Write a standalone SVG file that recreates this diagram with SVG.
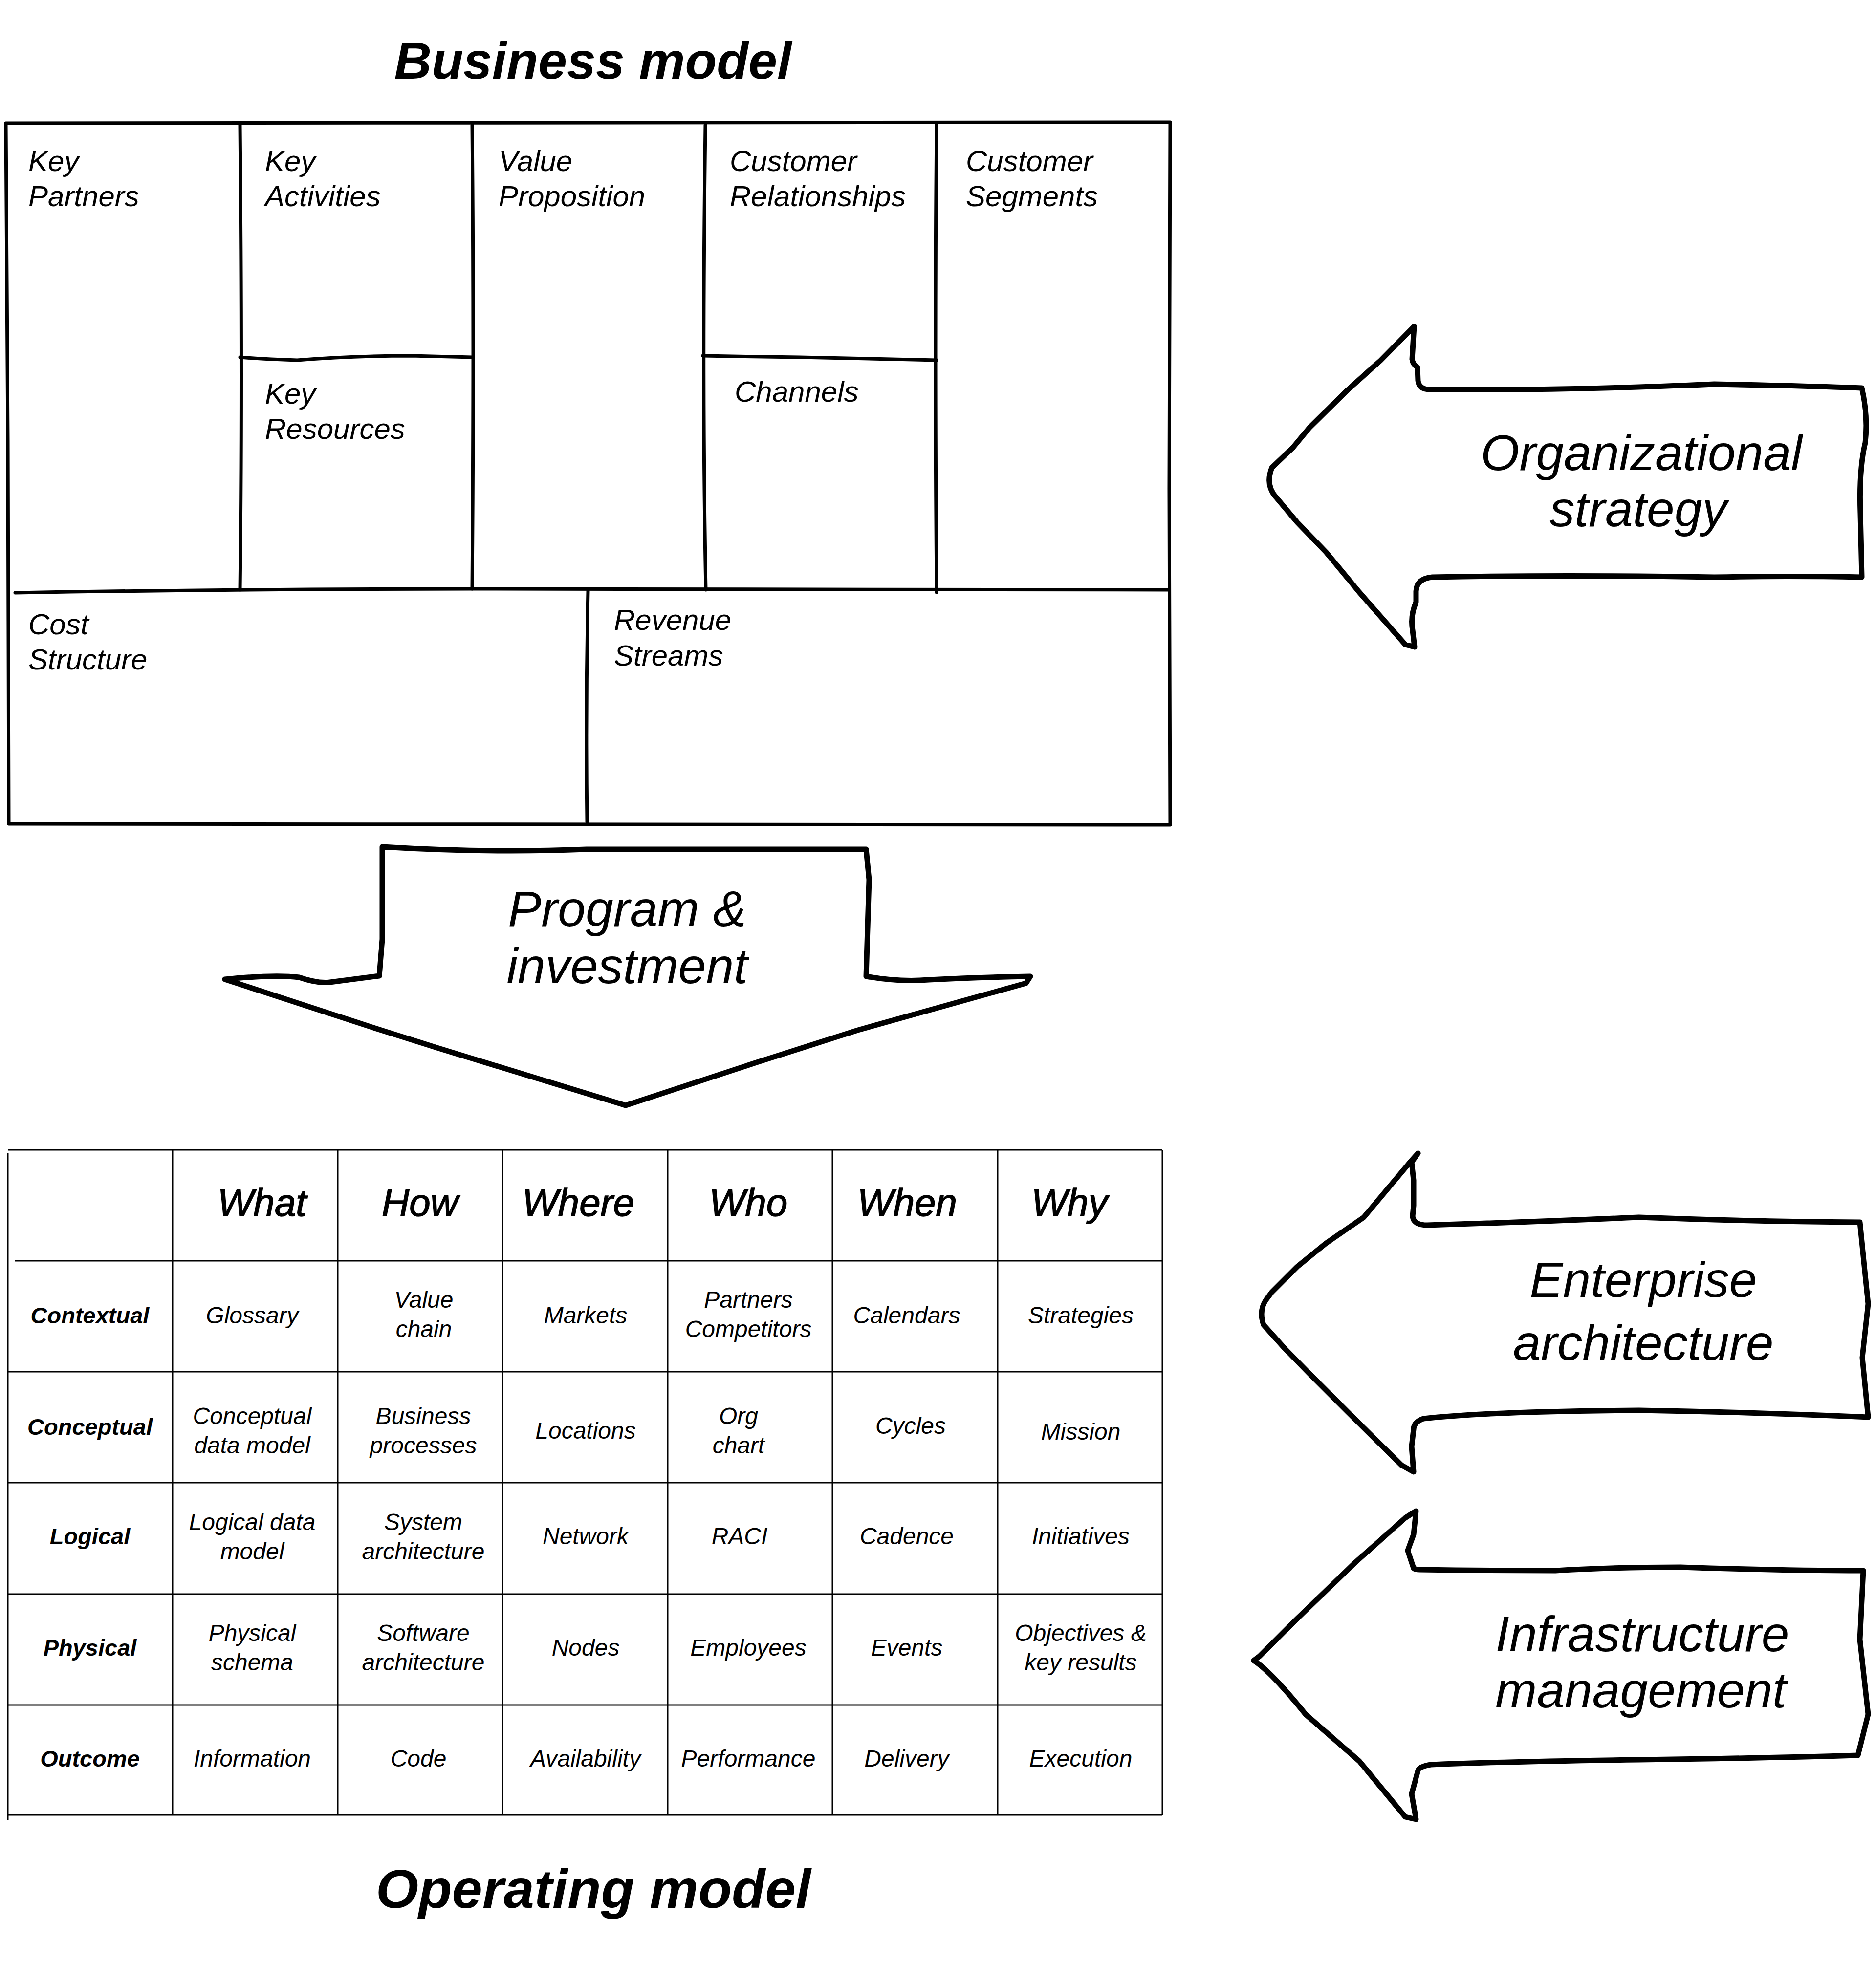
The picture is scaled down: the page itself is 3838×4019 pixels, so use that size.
<svg xmlns="http://www.w3.org/2000/svg" width="3838" height="4019" viewBox="0 0 3838 4019">
<style>
.t{font-family:"Liberation Sans",Arial,sans-serif;font-style:italic;fill:#000}
.title{font-size:106px;font-weight:bold;text-anchor:middle}
.lbl{font-size:60px}
.arw{font-size:102px;text-anchor:middle}
.hdr{font-size:78px;text-anchor:middle;stroke:#000;stroke-width:1.5}
.row{font-size:47px;font-weight:bold;text-anchor:middle}
.cell{font-size:48px;text-anchor:middle}
.ln{fill:none;stroke:#000;stroke-width:7;stroke-linecap:round;stroke-linejoin:round}
.grid{fill:none;stroke:#000;stroke-width:3}
.blk{fill:#fff;stroke:#000;stroke-width:11;stroke-linecap:round;stroke-linejoin:round}
</style>
<rect width="3838" height="4019" fill="#fff"/>

<g id="title-business-model"><text class="t title" x="1213" y="161">Business model</text></g>

<g id="business-model-canvas">
  <path class="ln" d="M12,252 Q1200,255 2394,250 L2392,1000 L2394,1688 Q1200,1682 18,1686 L16,900 Z"/>
  <path class="ln" d="M491,256 Q496,800 491,1207"/>
  <path class="ln" d="M966,256 Q970,700 966,1205"/>
  <path class="ln" d="M1443,256 Q1436,800 1444,1207"/>
  <path class="ln" d="M1916,256 Q1912,700 1916,1212"/>
  <path class="ln" d="M491,731 Q540,735 608,737 Q720,728 841,728 L966,731"/>
  <path class="ln" d="M1438,728 Q1540,730 1636,731 L1916,737"/>
  <path class="ln" d="M31,1213 Q500,1205 966,1205 Q1600,1208 2390,1207"/>
  <path class="ln" d="M1203,1209 Q1198,1450 1201,1682"/>
</g>

<g id="key-partners"><text class="t lbl" x="58" y="350">Key</text><text class="t lbl" x="58" y="422">Partners</text></g>
<g id="key-activities"><text class="t lbl" x="542" y="350">Key</text><text class="t lbl" x="542" y="422">Activities</text></g>
<g id="value-proposition"><text class="t lbl" x="1020" y="350">Value</text><text class="t lbl" x="1020" y="422">Proposition</text></g>
<g id="customer-relationships"><text class="t lbl" x="1493" y="350">Customer</text><text class="t lbl" x="1493" y="422">Relationships</text></g>
<g id="customer-segments"><text class="t lbl" x="1976" y="350">Customer</text><text class="t lbl" x="1976" y="422">Segments</text></g>
<g id="key-resources"><text class="t lbl" x="542" y="826">Key</text><text class="t lbl" x="542" y="898">Resources</text></g>
<g id="channels"><text class="t lbl" x="1503" y="822">Channels</text></g>
<g id="cost-structure"><text class="t lbl" x="58" y="1298">Cost</text><text class="t lbl" x="58" y="1370">Structure</text></g>
<g id="revenue-streams"><text class="t lbl" x="1256" y="1289">Revenue</text><text class="t lbl" x="1256" y="1362">Streams</text></g>

<g id="connectors">
  <g id="arrow-program-investment">
    <path class="blk" d="M782,1733 Q1000,1746 1200,1738 L1772,1738 L1778,1800 L1772,1998 Q1840,2010 1900,2005 Q2000,2000 2108,1998 L2099,2012 L1755,2108 L1548,2174 L1280,2262 L894,2144 L767,2104 L460,2004 Q560,1994 612,2000 Q650,2013 675,2010 L776,1997 L782,1922 Z"/>
    <text class="t arw" x="1283" y="1895">Program &amp;</text>
    <text class="t arw" x="1283" y="2012">investment</text>
  </g>
  <g id="arrow-organizational-strategy">
    <path class="blk" d="M2893,668 L2889,735 Q2890,745 2900,752 L2901,779 Q2903,797 2925,797 Q3200,800 3507,786 Q3700,790 3809,794 Q3822,850 3816,906 Q3803,960 3806,1050 L3809,1181 Q3650,1178 3507,1181 Q3200,1176 2930,1181 Q2898,1184 2897,1210 L2897,1232 Q2885,1260 2890,1290 L2894,1324 L2875,1319 L2781,1212 L2713,1130 L2654,1069 L2611,1018 Q2588,993 2602,957 L2645,916 L2679,875 L2756,799 L2824,738 Z"/>
    <text class="t arw" x="3358" y="962">Organizational</text>
    <text class="t arw" x="3352" y="1077">strategy</text>
  </g>
  <g id="arrow-enterprise-architecture">
    <path class="blk" d="M2901,2360 L2888,2378 L2892,2415 L2892,2467 L2890,2489 Q2892,2507 2920,2507 Q3150,2500 3353,2491 Q3600,2500 3805,2501 L3815,2600 L3822,2668 L3810,2778 L3822,2900 Q3600,2890 3353,2886 Q3050,2888 2912,2903 Q2892,2910 2892,2925 L2888,2960 L2892,3012 L2867,2998 L2756,2888 L2679,2811 L2628,2759 L2585,2711 Q2575,2682 2590,2660 L2602,2644 L2654,2592 L2713,2544 L2790,2491 L2884,2379 Z"/>
    <text class="t arw" x="3362" y="2654">Enterprise</text>
    <text class="t arw" x="3362" y="2783">architecture</text>
  </g>
  <g id="arrow-infrastructure-management">
    <path class="blk" d="M2897,3092 L2892,3140 L2880,3173 L2892,3209 Q2895,3212 2905,3212 Q3050,3214 3182,3214 Q3300,3207 3438,3207 Q3650,3214 3812,3214 L3805,3355 L3822,3508 L3801,3592 Q3600,3598 3353,3601 Q3100,3604 2927,3611 Q2903,3615 2901,3623 L2888,3671 L2897,3723 L2875,3718 L2781,3604 L2671,3508 Q2600,3420 2565,3398 L2577,3389 L2654,3312 L2773,3197 L2875,3106 Z"/>
    <text class="t arw" x="3360" y="3379">Infrastructure</text>
    <text class="t arw" x="3357" y="3494">management</text>
  </g>
</g>

<g id="operating-model-grid">
  <path class="grid" d="M16,2353 L2378,2353 M31,2580 L2378,2580 M16,2807 L2378,2807 M16,3034 L2378,3034 M16,3262 L2378,3262 M16,3489 L2378,3489 M16,3714 L2378,3714"/>
  <path class="grid" d="M16,2360 L16,3725 M353,2353 L353,3714 M691,2353 L691,3714 M1028,2353 L1028,3714 M1366,2353 L1366,3714 M1703,2353 L1703,3714 M2041,2353 L2041,3714 M2378,2353 L2378,3714"/>
</g>

<g id="hdr-what"><text class="t hdr" x="536" y="2488">What</text></g>
<g id="hdr-how"><text class="t hdr" x="859" y="2488">How</text></g>
<g id="hdr-where"><text class="t hdr" x="1183" y="2488">Where</text></g>
<g id="hdr-who"><text class="t hdr" x="1531" y="2488">Who</text></g>
<g id="hdr-when"><text class="t hdr" x="1856" y="2488">When</text></g>
<g id="hdr-why"><text class="t hdr" x="2188" y="2488">Why</text></g>

<g id="row-contextual"><text class="t row" x="184" y="2708">Contextual</text></g>
<g id="cell-contextual-what"><text class="t cell" x="516" y="2708">Glossary</text></g>
<g id="cell-contextual-how"><text class="t cell" x="867" y="2676">Value</text><text class="t cell" x="867" y="2736">chain</text></g>
<g id="cell-contextual-where"><text class="t cell" x="1198" y="2708">Markets</text></g>
<g id="cell-contextual-who"><text class="t cell" x="1531" y="2676">Partners</text><text class="t cell" x="1531" y="2736">Competitors</text></g>
<g id="cell-contextual-when"><text class="t cell" x="1855" y="2708">Calendars</text></g>
<g id="cell-contextual-why"><text class="t cell" x="2211" y="2708">Strategies</text></g>

<g id="row-conceptual"><text class="t row" x="184" y="2936">Conceptual</text></g>
<g id="cell-conceptual-what"><text class="t cell" x="516" y="2914">Conceptual</text><text class="t cell" x="516" y="2974">data model</text></g>
<g id="cell-conceptual-how"><text class="t cell" x="866" y="2914">Business</text><text class="t cell" x="866" y="2974">processes</text></g>
<g id="cell-conceptual-where"><text class="t cell" x="1198" y="2944">Locations</text></g>
<g id="cell-conceptual-who"><text class="t cell" x="1511" y="2914">Org</text><text class="t cell" x="1511" y="2974">chart</text></g>
<g id="cell-conceptual-when"><text class="t cell" x="1863" y="2934">Cycles</text></g>
<g id="cell-conceptual-why"><text class="t cell" x="2211" y="2946">Mission</text></g>

<g id="row-logical"><text class="t row" x="184" y="3160">Logical</text></g>
<g id="cell-logical-what"><text class="t cell" x="516" y="3131">Logical data</text><text class="t cell" x="516" y="3191">model</text></g>
<g id="cell-logical-how"><text class="t cell" x="866" y="3131">System</text><text class="t cell" x="866" y="3191">architecture</text></g>
<g id="cell-logical-where"><text class="t cell" x="1198" y="3160">Network</text></g>
<g id="cell-logical-who"><text class="t cell" x="1513" y="3160">RACI</text></g>
<g id="cell-logical-when"><text class="t cell" x="1855" y="3160">Cadence</text></g>
<g id="cell-logical-why"><text class="t cell" x="2211" y="3160">Initiatives</text></g>

<g id="row-physical"><text class="t row" x="184" y="3388">Physical</text></g>
<g id="cell-physical-what"><text class="t cell" x="516" y="3358">Physical</text><text class="t cell" x="516" y="3418">schema</text></g>
<g id="cell-physical-how"><text class="t cell" x="866" y="3358">Software</text><text class="t cell" x="866" y="3418">architecture</text></g>
<g id="cell-physical-where"><text class="t cell" x="1198" y="3388">Nodes</text></g>
<g id="cell-physical-who"><text class="t cell" x="1531" y="3388">Employees</text></g>
<g id="cell-physical-when"><text class="t cell" x="1855" y="3388">Events</text></g>
<g id="cell-physical-why"><text class="t cell" x="2211" y="3358">Objectives &amp;</text><text class="t cell" x="2211" y="3418">key results</text></g>

<g id="row-outcome"><text class="t row" x="184" y="3615">Outcome</text></g>
<g id="cell-outcome-what"><text class="t cell" x="516" y="3615">Information</text></g>
<g id="cell-outcome-how"><text class="t cell" x="856" y="3615">Code</text></g>
<g id="cell-outcome-where"><text class="t cell" x="1198" y="3615">Availability</text></g>
<g id="cell-outcome-who"><text class="t cell" x="1531" y="3615">Performance</text></g>
<g id="cell-outcome-when"><text class="t cell" x="1855" y="3615">Delivery</text></g>
<g id="cell-outcome-why"><text class="t cell" x="2211" y="3615">Execution</text></g>

<g id="title-operating-model"><text class="t title" x="1214" y="3904" style="font-size:112px">Operating model</text></g>
</svg>
